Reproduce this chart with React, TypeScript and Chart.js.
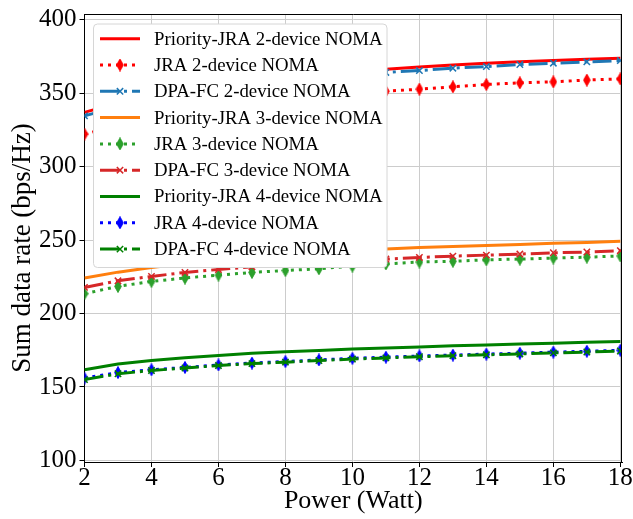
import React, { useEffect, useRef } from 'react';
import { Chart, registerables } from 'chart.js';

Chart.register(...registerables);

// ---- data ----
const power = [2, 3, 4, 5, 6, 7, 8, 9, 10, 11, 12, 13, 14, 15, 16, 17, 18];
const priority2 = [337, 343.5, 348.3, 352.2, 355.5, 358.3, 360.7, 362.8, 364.7, 366.3, 367.9, 369.2, 370.4, 371.5, 372.4, 373.2, 373.9];
const jra2 = [322.2, 328, 332.8, 336.7, 340, 342.9, 345.4, 347.6, 349.6, 351.4, 352.8, 354.4, 356, 357.1, 357.8, 359, 359.8];
const dpa2 = [334.6, 340.8, 345.5, 349.5, 353, 356, 358.6, 360.8, 362.6, 364.2, 365.5, 367.1, 368.2, 369.6, 370.5, 371.4, 372.3];
const priority3 = [224.2, 228.2, 231.4, 234, 236.3, 238.3, 240, 241.5, 242.8, 243.9, 244.9, 245.7, 246.4, 247.1, 247.8, 248.4, 249.2];
const jra3 = [213.5, 218.5, 221.9, 224.2, 226.2, 228, 229.3, 230.5, 232.3, 233.8, 235.1, 235.6, 236.6, 237.1, 237.8, 238.4, 239.2];
const dpa3 = [217.8, 222.3, 225.3, 228, 230, 231.8, 233.3, 234.7, 236, 237.1, 238.2, 239.1, 239.8, 240.5, 241.4, 241.9, 242.8];
const priority4 = [161.7, 165.6, 168.1, 169.9, 171.5, 172.9, 174, 174.9, 175.8, 176.6, 177.3, 178, 178.6, 179.2, 179.8, 180.4, 181];
const jra4 = [156, 159.8, 161.7, 163.3, 165, 166.3, 167.3, 168.4, 169.5, 170.3, 171.1, 171.7, 172.4, 173, 173.7, 174.3, 175];
const dpa4 = [155, 159, 161.2, 162.9, 164.6, 165.9, 166.9, 168, 169, 169.8, 170.6, 171.3, 171.9, 172.5, 173.2, 173.8, 174.5];

const seriesLabels = [
  'Priority-JRA 2-device NOMA',
  'JRA 2-device NOMA',
  'DPA-FC 2-device NOMA',
  'Priority-JRA 3-device NOMA',
  'JRA 3-device NOMA',
  'DPA-FC 3-device NOMA',
  'Priority-JRA 4-device NOMA',
  'JRA 4-device NOMA',
  'DPA-FC 4-device NOMA',
];
const seriesData = [priority2, jra2, dpa2, priority3, jra3, dpa3, priority4, jra4, dpa4];
const seriesColors = ['#ff0000', '#ff0000', '#1f77b4', '#ff7f0e', '#2ca02c', '#d62728', '#008000', '#0000ff', '#008000'];
const seriesKinds = ['solid', 'dot', 'dashdot', 'solid', 'dot', 'dashdot', 'solid', 'dot', 'dashdot'];

const xTitle = 'Power (Watt)';
const yTitle = 'Sum data rate (bps/Hz)';

const FONT = '"Liberation Serif", "Times New Roman", serif';

function makeDiamond(color: string) {
  const c = document.createElement('canvas');
  c.width = 8;
  c.height = 13;
  const ctx = c.getContext('2d')!;
  ctx.fillStyle = color;
  ctx.strokeStyle = color;
  ctx.lineWidth = 1;
  ctx.beginPath();
  ctx.moveTo(4, 0.5);
  ctx.lineTo(7.3, 6.5);
  ctx.lineTo(4, 12.5);
  ctx.lineTo(0.7, 6.5);
  ctx.closePath();
  ctx.fill();
  ctx.stroke();
  return c;
}

function buildDatasets() {
  return seriesLabels.map((label, i) => {
    const color = seriesColors[i];
    const kind = seriesKinds[i];
    const base: any = {
      label,
      data: power.map((x, j) => ({ x, y: seriesData[i][j] })),
      borderColor: color,
      backgroundColor: color,
      borderWidth: 3,
      fill: false,
      tension: 0,
      borderCapStyle: 'butt',
      order: 20 - i,
      kind,
    };
    if (kind === 'solid') {
      base.pointRadius = 0;
      base.borderDash = [];
    } else if (kind === 'dot') {
      base.borderDash = [3, 5];
      base.pointStyle = makeDiamond(color);
      base.pointRadius = 6;
    } else {
      base.borderDash = [19, 5, 3, 5];
      base.pointStyle = 'crossRot';
      base.pointRadius = 4.5;
      base.pointBorderWidth = 1.5;
      base.pointBorderColor = color;
    }
    return base;
  });
}

const framePlusLegend = {
  id: 'framePlusLegend',
  afterDraw(chart: any) {
    const ctx: CanvasRenderingContext2D = chart.ctx;
    const { left, right, top, bottom } = chart.chartArea;
    ctx.save();
    ctx.strokeStyle = '#000';
    ctx.lineWidth = 1;
    ctx.setLineDash([]);
    ctx.beginPath();
    ctx.moveTo(left, top + 0.5);
    ctx.lineTo(right, top + 0.5);
    ctx.moveTo(right - 0.5, top);
    ctx.lineTo(right - 0.5, bottom);
    ctx.stroke();

    // y axis title
    ctx.save();
    ctx.translate(22.5, (top + bottom) / 2 + 10);
    ctx.rotate(-Math.PI / 2);
    ctx.fillStyle = '#000';
    ctx.font = `27px ${FONT}`;
    ctx.textAlign = 'center';
    ctx.textBaseline = 'middle';
    ctx.fillText(yTitle, 0, 0);
    ctx.restore();

    // legend box
    const bx = 93.5, by = 24, bw = 293.5, bh = 243.5, r = 4;
    ctx.beginPath();
    ctx.moveTo(bx + r, by);
    ctx.lineTo(bx + bw - r, by);
    ctx.arcTo(bx + bw, by, bx + bw, by + r, r);
    ctx.lineTo(bx + bw, by + bh - r);
    ctx.arcTo(bx + bw, by + bh, bx + bw - r, by + bh, r);
    ctx.lineTo(bx + r, by + bh);
    ctx.arcTo(bx, by + bh, bx, by + bh - r, r);
    ctx.lineTo(bx, by + r);
    ctx.arcTo(bx, by, bx + r, by, r);
    ctx.closePath();
    ctx.fillStyle = '#ffffff';
    ctx.fill();
    ctx.strokeStyle = '#d6d6d6';
    ctx.lineWidth = 1;
    ctx.stroke();

    chart.data.datasets.forEach((ds: any, i: number) => {
      const cy = 38.7 + i * 26.3;
      ctx.strokeStyle = ds.borderColor;
      ctx.lineWidth = ds.borderWidth;
      ctx.lineCap = 'butt';
      ctx.setLineDash(ds.borderDash || []);
      ctx.lineDashOffset = 0;
      ctx.beginPath();
      ctx.moveTo(100, cy);
      ctx.lineTo(140, cy);
      ctx.stroke();
      ctx.setLineDash([]);
      if (ds.kind === 'dot') {
        const img = ds.pointStyle as HTMLCanvasElement;
        ctx.drawImage(img, 120 - img.width / 2, cy - img.height / 2);
      } else if (ds.kind === 'dashdot') {
        const s = 4.5 * Math.SQRT1_2;
        ctx.lineWidth = 1.5;
        ctx.beginPath();
        ctx.moveTo(120 - s, cy - s);
        ctx.lineTo(120 + s, cy + s);
        ctx.moveTo(120 - s, cy + s);
        ctx.lineTo(120 + s, cy - s);
        ctx.stroke();
      }
      ctx.fillStyle = '#000';
      ctx.font = `18.8px ${FONT}`;
      ctx.textBaseline = 'middle';
      ctx.textAlign = 'left';
      ctx.fillText(ds.label, 154, cy + 1);
    });
    ctx.restore();
  },
};

export default function App() {
  const ref = useRef<HTMLCanvasElement | null>(null);
  useEffect(() => {
    if (!ref.current) return;
    Chart.defaults.font.family = FONT;
    const chart = new Chart(ref.current, {
      type: 'line',
      data: { datasets: buildDatasets() },
      options: {
        animation: false,
        responsive: false,
        events: [],
        layout: { padding: { top: 14, right: 11, left: 0, bottom: 0 } },
        plugins: { legend: { display: false }, tooltip: { enabled: false } },
        scales: {
          x: {
            type: 'linear',
            min: 2,
            max: 18.05,
            ticks: {
              stepSize: 2,
              includeBounds: false,
              autoSkip: false,
              maxRotation: 0,
              color: '#000',
              padding: -4,
              font: { family: FONT, size: 25 },
            },
            grid: { color: '#cccccc', lineWidth: 1, tickColor: '#000', tickLength: 5, tickWidth: 1 },
            border: { display: true, color: '#000', width: 1 },
            title: {
              display: true,
              text: xTitle,
              color: '#000',
              font: { family: FONT, size: 26 },
              padding: { top: 0, bottom: 2 },
            },
            afterFit(scale: any) {
              scale.height = 57;
              scale.paddingLeft = 0;
              scale.paddingRight = 0;
            },
          },
          y: {
            type: 'linear',
            min: 98.9,
            max: 404,
            ticks: {
              stepSize: 50,
              includeBounds: false,
              color: '#000',
              padding: 3,
              font: { family: FONT, size: 25 },
            },
            grid: { color: '#cccccc', lineWidth: 1, tickColor: '#000', tickLength: 5, tickWidth: 1 },
            border: { display: true, color: '#000', width: 1 },
            title: { display: false },
            afterFit(scale: any) {
              scale.width = 84.5;
              scale.paddingTop = 0;
              scale.paddingBottom = 0;
            },
          },
        },
      } as any,
      plugins: [framePlusLegend],
    });
    return () => chart.destroy();
  }, []);
  return (
    <div style={{ position: 'fixed', left: 0, top: 0, width: 633, height: 519, background: '#fff' }}>
      <canvas ref={ref} width={633} height={519} style={{ display: 'block' }} />
    </div>
  );
}
